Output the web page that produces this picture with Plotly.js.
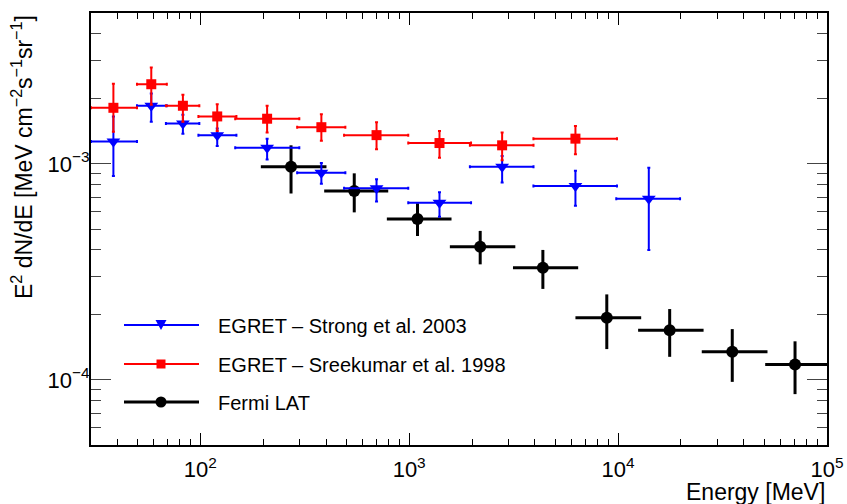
<!DOCTYPE html>
<html>
<head>
<meta charset="utf-8">
<script src="https://cdn.plot.ly/plotly-3.0.1.min.js"></script>
<style>html,body{margin:0;padding:0;background:#fff;}#chart{width:847px;height:504px;}</style>
</head>
<body>
<div id="chart"></div>
<script>
// ---- Data ----
// EGRET - Strong et al. 2003
const strongE    = [38.4, 58.3, 82.6, 120.6, 209, 380, 698, 1397, 2786, 6250, 14030];
const strongElo  = [30, 49.8, 68.5, 98, 147, 291, 488, 990, 1953, 3933, 9800];
const strongEhi  = [49.8, 69.2, 99, 149, 298, 495, 990, 1978, 3937, 9880, 19800];
const strongF    = [1.27e-3, 1.86e-3, 1.54e-3, 1.36e-3, 1.19e-3, 9.1e-4, 7.72e-4, 6.62e-4, 9.7e-4, 7.9e-4, 6.9e-4];
const strongFlo  = [8.8e-4, 1.57e-3, 1.38e-3, 1.21e-3, 1.05e-3, 8.1e-4, 6.7e-4, 5.7e-4, 8.2e-4, 6.4e-4, 4.0e-4];
const strongFhi  = [1.66e-3, 2.12e-3, 1.69e-3, 1.46e-3, 1.31e-3, 1.01e-3, 8.5e-4, 7.4e-4, 1.09e-3, 9.3e-4, 9.6e-4];

// EGRET - Sreekumar et al. 1998
const sreeE   = [38.4, 58.3, 82.6, 120.6, 209, 380, 698, 1397, 2786, 6250];
const sreeElo = [30, 49.8, 68.5, 98, 147, 291, 488, 990, 1953, 3933];
const sreeEhi = [49.8, 69.2, 99, 149, 298, 495, 990, 1978, 3937, 9880];
const sreeF   = [1.82e-3, 2.34e-3, 1.86e-3, 1.66e-3, 1.62e-3, 1.48e-3, 1.36e-3, 1.25e-3, 1.22e-3, 1.31e-3];
const sreeFlo = [1.41e-3, 1.88e-3, 1.57e-3, 1.42e-3, 1.40e-3, 1.28e-3, 1.17e-3, 1.07e-3, 1.04e-3, 1.11e-3];
const sreeFhi = [2.35e-3, 2.80e-3, 2.09e-3, 1.89e-3, 1.86e-3, 1.70e-3, 1.56e-3, 1.42e-3, 1.40e-3, 1.50e-3];

// Fermi LAT
const lodE   = [272, 546, 1096, 2188, 4365, 8830, 17660, 35200, 70300];
const lodElo = [195, 392, 782, 1566, 3140, 6250, 12470, 25150, 50600];
const lodEhi = [402, 794, 1595, 3222, 6442, 12900, 25660, 51900, 100000];
const lodF   = [9.7e-4, 7.5e-4, 5.56e-4, 4.14e-4, 3.31e-4, 1.94e-4, 1.70e-4, 1.35e-4, 1.18e-4];
const lodFlo = [7.3e-4, 5.97e-4, 4.64e-4, 3.43e-4, 2.64e-4, 1.39e-4, 1.28e-4, 9.8e-5, 8.6e-5];
const lodFhi = [1.22e-3, 9.05e-4, 6.58e-4, 4.90e-4, 4.00e-4, 2.49e-4, 2.13e-4, 1.72e-4, 1.51e-4];

const seriesNames = ['EGRET \u2013 Strong et al. 2003', 'EGRET \u2013 Sreekumar et al. 1998', 'Fermi LAT'];

// Axis tick labels
const xMajorVals = [100, 1000, 10000, 100000];
const xMajorText = ['10<sup>2</sup>', '10<sup>3</sup>', '10<sup>4</sup>', '10<sup>5</sup>'];
const yMajorVals = [1e-4, 1e-3];
const yMajorText = ['10<sup>\u22124</sup>', '10<sup>\u22123</sup>'];

// ---- Helpers ----
const diff = (a, b) => a.map((v, i) => v - b[i]);
function minorVals(lo, hi) {
  const out = [];
  for (let d = Math.floor(Math.log10(lo)); d <= Math.ceil(Math.log10(hi)); d++) {
    for (let m = 2; m <= 9; m++) {
      const v = m * Math.pow(10, d);
      if (v > lo * 0.999 && v < hi * 1.001) out.push(v);
    }
  }
  return out;
}

function errTrace(x, xlo, xhi, y, ylo, yhi, color, symbol, size, thick, cap) {
  return {
    type: 'scatter', mode: 'markers', x: x, y: y, showlegend: false,
    marker: {color: color, symbol: symbol, size: size, line: {width: 0}},
    error_x: {type: 'data', symmetric: false, array: diff(xhi, x), arrayminus: diff(x, xlo),
              color: color, thickness: thick, width: cap},
    error_y: {type: 'data', symmetric: false, array: diff(yhi, y), arrayminus: diff(y, ylo),
              color: color, thickness: thick, width: cap},
    cliponaxis: true
  };
}

const traces = [
  errTrace(lodE, lodElo, lodEhi, lodF, lodFlo, lodFhi, '#000000', 'circle', 12, 3, 0),
  errTrace(strongE, strongElo, strongEhi, strongF, strongFlo, strongFhi, '#0000ff', 'triangle-down', 12, 2, 1.5),
  errTrace(sreeE, sreeElo, sreeEhi, sreeF, sreeFlo, sreeFhi, '#ff0000', 'square', 10, 2, 1.5)
];

// ---- Layout ----
const W = 847, H = 504, L = 91, R = 20, T = 13, B = 59;
const pw = W - L - R, ph = H - T - B;
const px = v => (v - L) / pw;         // pixel -> paper x
const py = v => (H - B - v) / ph;     // pixel -> paper y
const FONT = 'Liberation Sans, Arial, Helvetica, sans-serif';

const shapes = [];
const annotations = [];
const legendRows = [325, 364, 402];
const legendColors = ['#0000ff', '#ff0000', '#000000'];
const legendWidths = [2, 2, 3];
legendRows.forEach((ry, i) => {
  shapes.push({type: 'line', xref: 'paper', yref: 'paper', x0: px(124), x1: px(199), y0: py(ry), y1: py(ry),
               line: {color: legendColors[i], width: legendWidths[i]}});
  const cx = 161;
  if (i === 0) {
    const path = `M${px(cx - 5.5)},${py(ry - 5)} L${px(cx + 5.5)},${py(ry - 5)} L${px(cx)},${py(ry + 5)} Z`;
    shapes.push({type: 'path', xref: 'paper', yref: 'paper', path: path,
                 fillcolor: legendColors[i], line: {width: 0}});
  } else if (i === 1) {
    shapes.push({type: 'rect', xref: 'paper', yref: 'paper', x0: px(cx - 4.5), x1: px(cx + 4.5),
                 y0: py(ry + 4.5), y1: py(ry - 4.5), fillcolor: legendColors[i], line: {width: 0}});
  } else {
    shapes.push({type: 'circle', xref: 'paper', yref: 'paper', x0: px(cx - 5.5), x1: px(cx + 5.5),
                 y0: py(ry + 5.5), y1: py(ry - 5.5), fillcolor: legendColors[i], line: {width: 0}});
  }
  annotations.push({xref: 'paper', yref: 'paper', x: px(216), y: py(ry + 1), xanchor: 'left', yanchor: 'middle',
                    text: seriesNames[i], showarrow: false, font: {family: FONT, size: 20, color: '#000'}});
});

// axis titles
annotations.push({xref: 'paper', yref: 'paper', x: 1.0, y: py(492), xanchor: 'right', yanchor: 'middle',
                  text: 'Energy [MeV]', showarrow: false, font: {family: FONT, size: 23, color: '#000'}});
annotations.push({xref: 'paper', yref: 'paper', x: px(22), y: 1.0, xanchor: 'center', yanchor: 'top',
                  textangle: -90,
                  text: 'E<sup>2</sup> dN/dE [MeV cm<sup>\u22122</sup>s<sup>\u22121</sup>sr<sup>\u22121</sup>]',
                  showarrow: false, font: {family: FONT, size: 23, color: '#000'}});

const layout = {
  width: W, height: H,
  margin: {l: L, r: R, t: T, b: B, pad: 0},
  paper_bgcolor: '#ffffff', plot_bgcolor: '#ffffff',
  showlegend: false,
  font: {family: FONT, size: 22, color: '#000'},
  xaxis: {
    type: 'log', range: [Math.log10(30), 5], autorange: false,
    showgrid: false, zeroline: false,
    showline: true, linecolor: '#000', linewidth: 2, mirror: 'allticks',
    ticks: 'inside', ticklen: 12, tickwidth: 1, tickcolor: '#000',
    tickmode: 'array', tickvals: xMajorVals, ticktext: xMajorText,
    ticklabelstandoff: 4,
    tickfont: {family: FONT, size: 22, color: '#000'},
    minor: {tickmode: 'array', tickvals: minorVals(30, 1e5), ticks: 'inside', ticklen: 6, tickwidth: 1, tickcolor: '#000', showgrid: false}
  },
  yaxis: {
    type: 'log', range: [Math.log10(5e-5), Math.log10(5e-3)], autorange: false,
    showgrid: false, zeroline: false,
    showline: true, linecolor: '#000', linewidth: 2, mirror: 'allticks',
    ticks: 'inside', ticklen: 20, tickwidth: 1, tickcolor: '#444',
    tickmode: 'array', tickvals: yMajorVals, ticktext: yMajorText,
    ticklabelstandoff: -5,
    tickfont: {family: FONT, size: 22, color: '#000'},
    minor: {tickmode: 'array', tickvals: minorVals(5e-5, 5e-3), ticks: 'inside', ticklen: 10, tickwidth: 1, tickcolor: '#444', showgrid: false}
  },
  shapes: shapes,
  annotations: annotations
};

Plotly.newPlot('chart', traces, layout, {displayModeBar: false, staticPlot: true});
</script>
</body>
</html>
